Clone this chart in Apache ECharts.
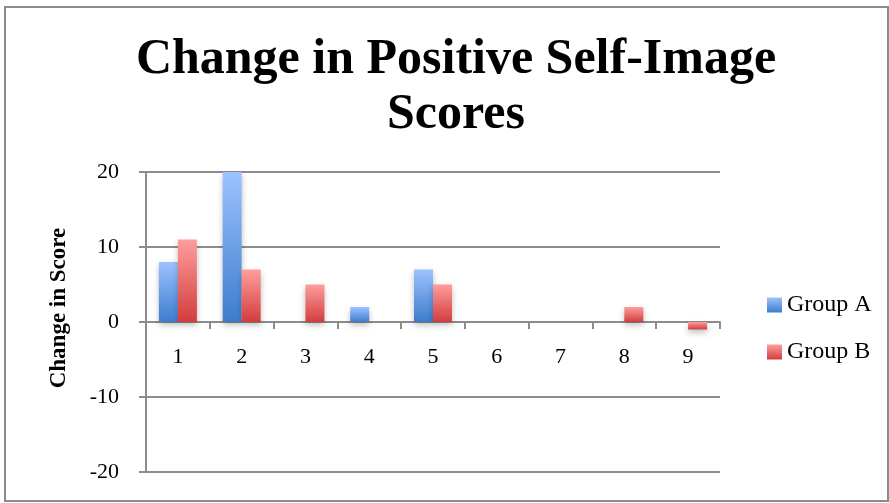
<!DOCTYPE html>
<html><head><meta charset="utf-8">
<script src="https://cdn.jsdelivr.net/npm/echarts@6/dist/echarts.min.js"></script>
<style>html,body{margin:0;padding:0;background:#fff}#c{width:889px;height:503px}</style>
</head><body><div id="c"></div>
<script>
const categories = ['1','2','3','4','5','6','7','8','9'];
const groupA = [8, 20, 0, 2, 7, 0, 0, 0, 0];
const groupB = [11, 7, 5, 0, 5, 0, 0, 2, -1];
const yTicks = { min: -20, max: 20, interval: 10 };
const titleText = 'Change in Positive Self-Image\nScores';
const yName = 'Change in Score';

const serif = '"Liberation Serif", "DejaVu Serif", serif';
function grad(top, bottom){
  return new echarts.graphic.LinearGradient(0,0,0,1,[{offset:0,color:top},{offset:1,color:bottom}]);
}
const chart = echarts.init(document.getElementById('c'));
chart.setOption({
  animation:false,
  backgroundColor:'#fff',
  graphic:[
    {type:'rect', shape:{x:5,y:7,width:883,height:494}, style:{fill:'none',stroke:'#8c8c8c',lineWidth:2}},
    {type:'text', x:456, y:33, style:{text:titleText, font:'bold 50px '+serif, fill:'#000', textAlign:'center', lineHeight:55}},
    {type:'text', x:59, y:308, rotation:Math.PI/2, style:{text:yName, font:'bold 23px '+serif, fill:'#000', textAlign:'center', textVerticalAlign:'middle'}}
  ],
  grid:{left:146, right:169, top:172, bottom:31},
  legend:{
    orient:'vertical', left:762, top:288, itemGap:23, itemWidth:15, itemHeight:15, icon:'rect',
    textStyle:{fontFamily:serif, fontSize:24, lineHeight:24, color:'#000'},
    data:['Group A','Group B']
  },
  xAxis:{
    type:'category', data:categories, offset:-150,
    axisLine:{onZero:false, lineStyle:{color:'#8c8c8c', width:2}},
    axisTick:{show:true, length:7, lineStyle:{color:'#8c8c8c', width:2}},
    axisLabel:{fontFamily:serif, fontSize:22, color:'#000', margin:24}
  },
  yAxis:{
    type:'value', min:yTicks.min, max:yTicks.max, interval:yTicks.interval,
    axisLine:{show:true, lineStyle:{color:'#8c8c8c', width:2}},
    axisTick:{show:true, length:7, lineStyle:{color:'#8c8c8c', width:2}},
    axisLabel:{fontFamily:serif, fontSize:22, color:'#000', margin:27},
    splitLine:{lineStyle:{color:'#8c8c8c', width:2}}
  },
  series:[
    {name:'Group A', type:'bar', data:groupA, barWidth:19, barGap:'0%',
     itemStyle:{color:grad('#9cc3ff','#3d7ccc'), shadowBlur:6, shadowColor:'rgba(0,0,0,0.25)', shadowOffsetY:3}},
    {name:'Group B', type:'bar', data:groupB, barWidth:19, barGap:'0%',
     itemStyle:{color:grad('#ff9d9d','#d23d3d'), shadowBlur:6, shadowColor:'rgba(0,0,0,0.25)', shadowOffsetY:3}}
  ]
});
</script></body></html>
